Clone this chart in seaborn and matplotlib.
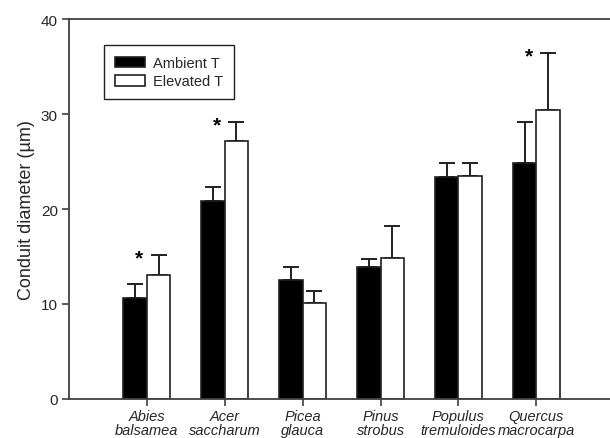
import matplotlib
matplotlib.use("Agg")
import matplotlib.pyplot as plt
import seaborn as sns
import pandas as pd

species = ["Abies\nbalsamea", "Acer\nsaccharum", "Picea\nglauca",
           "Pinus\nstrobus", "Populus\ntremuloides", "Quercus\nmacrocarpa"]
treatments = ["Ambient T", "Elevated T"]
ambient_mean = [10.6, 20.9, 12.5, 13.9, 23.4, 24.8]
ambient_err = [1.5, 1.4, 1.4, 0.8, 1.4, 4.4]
elevated_mean = [13.1, 27.2, 10.1, 14.8, 23.5, 30.4]
elevated_err = [2.1, 2.0, 1.3, 3.4, 1.3, 6.0]
significant = [True, True, False, False, False, True]
y_ticks = [0, 10, 20, 30, 40]

sns.set_theme(style="ticks")
plt.rcParams["font.family"] = ["Liberation Sans", "DejaVu Sans"]

df = pd.DataFrame({
    "species": species * 2,
    "treatment": [treatments[0]] * len(species) + [treatments[1]] * len(species),
    "diameter": ambient_mean + elevated_mean,
})

fig = plt.figure(figsize=(6.10, 4.39), dpi=100)
ax = fig.add_axes([0.113, 0.089, 0.894, 0.865])

sns.barplot(data=df, x="species", y="diameter", hue="treatment",
            order=species, hue_order=treatments,
            palette={"Ambient T": "black", "Elevated T": "white"},
            edgecolor="#202020", linewidth=1.2, width=0.6,
            errorbar=None, ax=ax, zorder=2)

# upward-only error bars centred on each drawn bar
bars = [p for p in ax.patches if p.get_height() > 0][: 2 * len(species)]
errs = ambient_err + elevated_err
means = ambient_mean + elevated_mean
for p, m, e in zip(bars, means, errs):
    xc = p.get_x() + p.get_width() / 2
    ax.errorbar(xc, m, yerr=[[0], [e]], fmt="none", ecolor="#202020",
                elinewidth=1.4, capsize=6, capthick=1.4, zorder=1)

# significance markers
for i, sig in enumerate(significant):
    if sig:
        top = elevated_mean[i] + elevated_err[i]
        ax.text(i - 0.1, top - 0.3, "*", ha="center", va="center",
                fontsize=15, fontweight="bold", color="black")

ax.set_xlim(-1, 6)
ax.set_ylim(0, 40)
ax.set_yticks(y_ticks)
ax.set_xlabel("")
ax.set_ylabel("Conduit diameter (\u00b5m)", fontsize=13, labelpad=4)
ax.tick_params(axis="y", labelsize=11, direction="out", length=5, width=1.2,
               color="#404040", pad=3)
ax.tick_params(axis="x", labelsize=10.5, direction="out", length=5, width=1.2,
               color="#404040", pad=2)
for lbl in ax.get_xticklabels():
    lbl.set_fontstyle("italic")
    lbl.set_linespacing(1.05)

for side in ["left", "bottom", "top"]:
    ax.spines[side].set_visible(True)
    ax.spines[side].set_color("#404040")
    ax.spines[side].set_linewidth(1.3)
ax.spines["right"].set_visible(False)

leg = ax.legend(loc="upper left", bbox_to_anchor=(0.064, 0.932),
                borderaxespad=0, frameon=True, fancybox=False,
                fontsize=10.5, handlelength=2.1, handleheight=0.75,
                handletextpad=0.55, borderpad=0.75, labelspacing=0.3)
leg.get_frame().set_edgecolor("#202020")
leg.get_frame().set_linewidth(1.0)
leg.get_frame().set_alpha(1)

fig.savefig("out.png", dpi=100)
